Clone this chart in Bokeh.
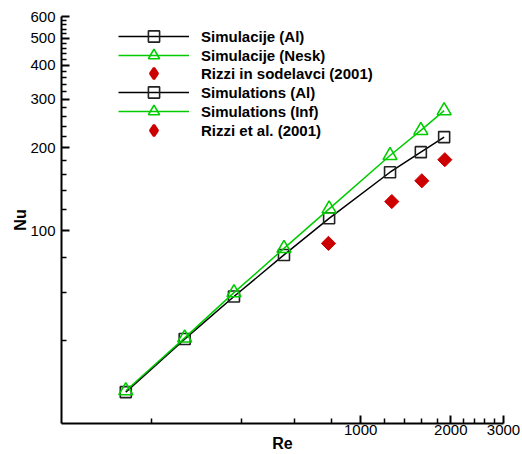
from bokeh.plotting import figure
from bokeh.models import (FixedTicker, PrintfTickFormatter, Legend, LegendItem,
                          Range1d, ColumnDataSource)
from bokeh.embed import file_html
from bokeh.resources import INLINE
import numpy as np

# ---- data ----
re_sim = [164, 258, 377, 554, 784, 1253, 1588, 1900]
nu_al = [26.0, 40.5, 57.8, 81.8, 111.1, 163.3, 193.1, 219.0]
nu_nesk = [26.3, 40.9, 59.7, 86.4, 120.2, 187.8, 231.6, 273.2]
re_rizzi = [780, 1270, 1600, 1910]
nu_rizzi = [90.1, 127.8, 152.0, 181.3]

x_major = [1000, 2000, 3000]
x_minor = [200, 400, 600, 800, 1200, 1400, 1600, 1800, 2200, 2400, 2600, 2800]
y_major = [100, 200, 300, 400, 500, 600]
y_minor = [40, 60, 80, 120, 140, 160, 180, 220, 240, 260, 280, 320, 340, 360,
           380, 420, 440, 460, 480, 520, 540, 560, 580]

labels = ["Simulacije (Al)", "Simulacije (Nesk)", "Rizzi in sodelavci (2001)",
          "Simulations (Al)", "Simulations (Inf)", "Rizzi et al. (2001)"]

FONT = "Liberation Sans"
GREEN = "#00cc00"
RED = "#cc0000"

FRAME_H = 405
p = figure(width=522, height=454, x_axis_type="log", y_axis_type="log",
           x_range=Range1d(100, 3000), y_range=Range1d(20, 600),
           output_backend="svg", toolbar_location=None,
           min_border_left=61, min_border_right=19, min_border_top=16,
           min_border_bottom=0)
p.outline_line_color = None
p.xgrid.visible = False
p.ygrid.visible = False
p.background_fill_color = "white"

src_al = ColumnDataSource(dict(x=re_sim, y=nu_al))
src_nesk = ColumnDataSource(dict(x=re_sim, y=nu_nesk))
src_rz = ColumnDataSource(dict(x=re_rizzi, y=nu_rizzi))

l_al = p.line("x", "y", source=src_al, line_color="black", line_width=1.5)
m_al = p.scatter("x", "y", source=src_al, marker="square", size=11,
                 fill_color=None, line_color="#222222", line_width=1.6)
l_ne = p.line("x", "y", source=src_nesk, line_color=GREEN, line_width=1.5)
m_ne = p.scatter("x", "y", source=src_nesk, marker="triangle", size=14,
                 fill_color=None, line_color=GREEN, line_width=1.6)
m_rz = p.scatter("x", "y", source=src_rz, marker="square", size=10,
                 angle=np.pi / 4, fill_color=RED, line_color=RED)
# legend-only sample for the diamond (legend ignores marker angle);
# its single point lies outside the axis ranges, so it is not drawn in the plot
m_rz_leg = p.scatter(x=[1], y=[1], marker="diamond", size=10,
                     fill_color=RED, line_color=RED, line_width=2.5)

renderer_sets = [[l_al, m_al], [l_ne, m_ne], [m_rz_leg],
                 [l_al, m_al], [l_ne, m_ne], [m_rz_leg]]

ROW0 = 34 - 16      # centre of the first legend row below the frame top
PITCH = 18.75
GH = 28
for i, (lab, rs) in enumerate(zip(labels, renderer_sets)):
    yc = ROW0 + PITCH * i
    ybottom = FRAME_H - (yc + GH / 2)
    leg = Legend(items=[LegendItem(label=lab, renderers=rs)],
                 location=(57, round(ybottom)), padding=0, margin=0,
                 spacing=0, glyph_width=71, glyph_height=GH, label_height=GH,
                 label_standoff=12, border_line_color=None,
                 background_fill_alpha=0,
                 label_text_font=FONT, label_text_font_style="bold",
                 label_text_font_size="15px", label_text_color="black")
    p.add_layout(leg)

for ax in (p.xaxis[0], p.yaxis[0]):
    ax.axis_line_width = 2
    ax.axis_line_color = "black"
    ax.major_tick_line_width = 2
    ax.minor_tick_line_width = 1.5
    ax.major_tick_in = 8
    ax.major_tick_out = 0
    ax.minor_tick_in = 5
    ax.minor_tick_out = 0
    ax.major_label_text_font = FONT
    ax.major_label_text_font_size = "15px"
    ax.major_label_text_color = "black"
    ax.axis_label_text_font = FONT
    ax.axis_label_text_font_style = "bold"
    ax.axis_label_text_font_size = "16px"
    ax.axis_label_text_color = "black"
    ax.formatter = PrintfTickFormatter(format="%d")

p.xaxis[0].ticker = FixedTicker(ticks=x_major, minor_ticks=x_minor)
p.yaxis[0].ticker = FixedTicker(ticks=y_major, minor_ticks=y_minor)
p.xaxis[0].axis_label = "Re"
p.yaxis[0].axis_label = "Nu"
p.xaxis[0].major_label_standoff = 1
p.xaxis[0].axis_label_standoff = -3
p.yaxis[0].major_label_standoff = 6
p.yaxis[0].axis_label_standoff = -2

open("out.html", "w").write(file_html(p, INLINE))
